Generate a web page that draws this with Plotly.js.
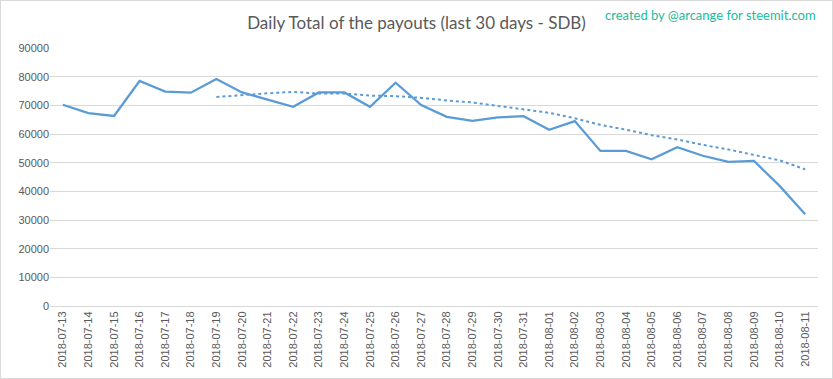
<!DOCTYPE html>
<html>
<head>
<meta charset="utf-8">
<script src="https://cdn.plot.ly/plotly-3.0.1.min.js"></script>
<style>
html,body{margin:0;padding:0;background:#fff;}
#wrap{position:relative;width:833px;height:379px;}
#chart{width:833px;height:379px;}
#frame{position:absolute;left:0;top:0;width:831px;height:377px;border:1px solid #d9d9d9;pointer-events:none;}
</style>
</head>
<body>
<div id="wrap"><div id="chart"></div><div id="frame"></div></div>
<script>
const dates = ["2018-07-13","2018-07-14","2018-07-15","2018-07-16","2018-07-17","2018-07-18","2018-07-19","2018-07-20","2018-07-21","2018-07-22","2018-07-23","2018-07-24","2018-07-25","2018-07-26","2018-07-27","2018-07-28","2018-07-29","2018-07-30","2018-07-31","2018-08-01","2018-08-02","2018-08-03","2018-08-04","2018-08-05","2018-08-06","2018-08-07","2018-08-08","2018-08-09","2018-08-10","2018-08-11"];
const payouts = [70200,67300,66300,78500,74800,74400,79200,74500,72000,69500,74500,74500,69500,77900,70100,66000,64600,65800,66200,61500,64500,54100,54100,51200,55400,52400,50300,50600,41900,32000];
const trendDates = dates.slice(6);
const trendValues = [72900,73600,74200,74700,74100,74100,73400,73200,72600,71700,71000,69800,68600,67400,65500,63200,61500,59600,58100,56200,54600,52600,50800,47700];
const yTicks = [0,10000,20000,30000,40000,50000,60000,70000,80000,90000];

const traces = [
  {x: dates, y: payouts, type: 'scatter', mode: 'lines',
   line: {color: '#5b9bd5', width: 2.25}, hoverinfo: 'x+y'},
  {x: trendDates, y: trendValues, type: 'scatter', mode: 'lines',
   line: {color: '#5b9bd5', width: 2, dash: 'dot'}, hoverinfo: 'x+y'}
];

const layout = {
  width: 833, height: 379,
  margin: {l: 50, r: 15, t: 48, b: 73},
  paper_bgcolor: '#fff', plot_bgcolor: '#fff',
  showlegend: false,
  font: {family: 'Lato, "Open Sans", sans-serif', color: '#595959', size: 11},
  title: {text: 'Daily Total of the payouts (last 30 days - SDB)',
          font: {family: 'Lato, "Open Sans", sans-serif', size: 17, color: '#595959'},
          x: 0.5, xanchor: 'center', y: 0.94, yanchor: 'middle', yref: 'container'},
  xaxis: {type: 'category', range: [-0.5, 29.5], tickangle: -90,
          showgrid: false, showline: true, linecolor: '#d9d9d9', linewidth: 1,
          ticks: '', tickfont: {family: 'Liberation Sans, Arial, sans-serif', size: 11, color: '#595959'},
          zeroline: false, fixedrange: true},
  yaxis: {range: [0, 90000], tickvals: yTicks, ticktext: yTicks.map(String),
          showgrid: true, gridcolor: '#d9d9d9', gridwidth: 1,
          zeroline: false, showline: false, ticks: '', ticklen: 0,
          tickfont: {family: 'Liberation Sans, Arial, sans-serif', size: 11, color: '#595959'},
          fixedrange: true},
  annotations: [{
    text: 'created by @arcange for steemit.com', xref: 'paper', yref: 'paper',
    x: 1, xanchor: 'right', y: 1.128, yanchor: 'middle', showarrow: false,
    font: {family: 'Lato, "Open Sans", sans-serif', size: 13, color: '#1abc9c'}
  }]
};

Plotly.newPlot('chart', traces, layout, {displayModeBar: false, staticPlot: true});
</script>
</body>
</html>
